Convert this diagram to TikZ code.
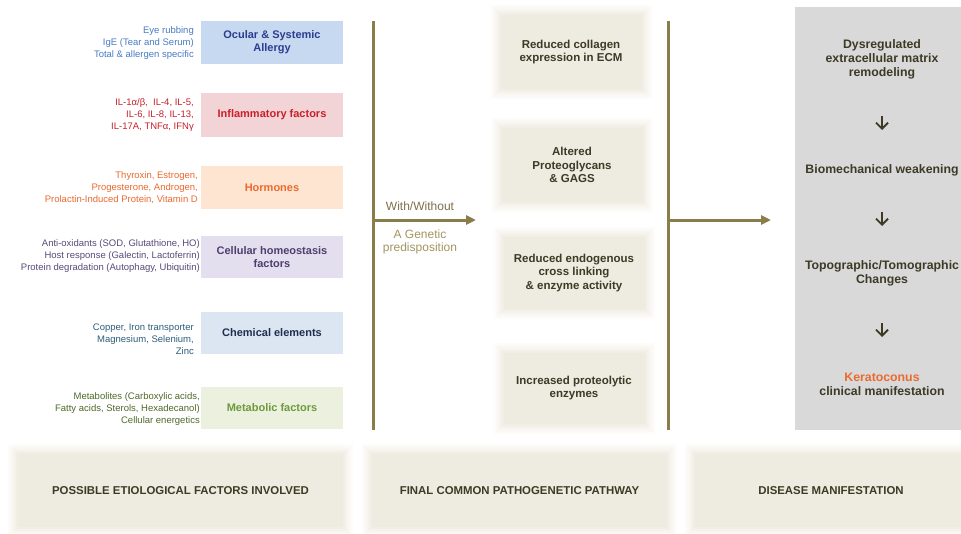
\documentclass[tikz,border=0pt]{standalone}
\usepackage{fontspec}
\setmainfont{Liberation Sans}
\usetikzlibrary{arrows.meta}
\definecolor{olive}{HTML}{8B7D4A}
\definecolor{glowc}{HTML}{DDD6BB}
\definecolor{midfill}{HTML}{EEEBE0}
\definecolor{darktext}{HTML}{3D3A26}
\definecolor{greyfill}{HTML}{D9D9D9}
\definecolor{allergyfill}{HTML}{C6D9F0}
\definecolor{allergytitle}{HTML}{2B3D8F}
\definecolor{allergydesc}{HTML}{4A7CC4}
\definecolor{inflfill}{HTML}{F2D3D6}
\definecolor{infltext}{HTML}{C8202A}
\definecolor{hormfill}{HTML}{FDE5D2}
\definecolor{hormtext}{HTML}{EB6A2E}
\definecolor{cellfill}{HTML}{E4DFEE}
\definecolor{celltitle}{HTML}{4E3E70}
\definecolor{celldesc}{HTML}{5A4A7A}
\definecolor{chemfill}{HTML}{DCE6F2}
\definecolor{chemtitle}{HTML}{1E2E4E}
\definecolor{chemdesc}{HTML}{2E5E7A}
\definecolor{metafill}{HTML}{EBF1DE}
\definecolor{metatitle}{HTML}{6E9A3A}
\definecolor{metadesc}{HTML}{4F6A2A}
\definecolor{withc}{HTML}{7D7048}
\definecolor{genc}{HTML}{A39560}
\definecolor{kerac}{HTML}{EB6A2E}
\begin{document}
\begin{tikzpicture}[x=1pt,y=-1pt,
  facbox/.style={minimum width=142pt, inner sep=0pt, align=center,
    font=\fontsize{11}{13}\selectfont\bfseries},
  desc/.style={anchor=east, align=right, inner sep=0pt,
    font=\fontsize{9.5}{12}\selectfont},
  glow/.style={
    preaction={draw=glowc, draw opacity=0.06, line width=20pt, rounded corners=10pt},
    preaction={draw=glowc, draw opacity=0.07, line width=16pt, rounded corners=8pt},
    preaction={draw=glowc, draw opacity=0.08, line width=12pt, rounded corners=6pt},
    preaction={draw=glowc, draw opacity=0.10, line width=8pt, rounded corners=4pt},
    preaction={draw=glowc, draw opacity=0.12, line width=4pt, rounded corners=2pt}},
  midbox/.style={glow, fill=midfill, minimum width=141pt, inner sep=0pt,
    align=center, text=darktext, font=\fontsize{11.5}{13.5}\selectfont\bfseries},
  botbox/.style={glow, fill=midfill, minimum height=73pt, inner sep=0pt,
    text=darktext, font=\fontsize{11.4}{13}\selectfont\bfseries},
  rtext/.style={align=center, text=darktext, inner sep=0pt,
    font=\fontsize{12.3}{14}\selectfont\bfseries},
  darrow/.style={draw=darktext, line width=1.8pt, -{Straight Barb[length=6pt,width=12pt]}},
  vline/.style={draw=olive, line width=3pt},
  harrow/.style={draw=olive, line width=3pt, -{Triangle[length=10pt,width=9pt]}}
]
\useasboundingbox (0,0) rectangle (961,533);
\clip (0,0) rectangle (961,533);
\fill[white] (0,0) rectangle (961,533);

% Left column: factor boxes
\node[facbox, fill=allergyfill, text=allergytitle, minimum height=43pt] (f1) at (272,42.5) {Ocular \& Systemic\\Allergy};
\node[facbox, fill=inflfill, text=infltext, minimum height=44pt] (f2) at (272,115) {Inflammatory factors};
\node[facbox, fill=hormfill, text=hormtext, minimum height=43pt] (f3) at (272,187.5) {Hormones};
\node[facbox, fill=cellfill, text=celltitle, minimum height=42pt] (f4) at (272,257) {Cellular homeostasis\\factors};
\node[facbox, fill=chemfill, text=chemtitle, minimum height=42pt] (f5) at (272,333) {Chemical elements};
\node[facbox, fill=metafill, text=metatitle, minimum height=42pt] (f6) at (272,408) {Metabolic factors};

% Descriptions
\node[desc, text=allergydesc] (d1) at (194,43) {Eye rubbing\\IgE (Tear and Serum)\\Total \& allergen specific};
\node[desc, text=infltext] (d2) at (194,115) {IL-1α/β,\ \ IL-4, IL-5,\\IL-6, IL-8, IL-13,\\IL-17A, TNFα, IFNγ};
\node[desc, text=hormtext] (d3) at (198,188) {Thyroxin, Estrogen,\\Progesterone, Androgen,\\Prolactin-Induced Protein, Vitamin D};
\node[desc, text=celldesc] (d4) at (200,256) {Anti-oxidants (SOD, Glutathione, HO)\\Host response (Galectin, Lactoferrin)\\Protein degradation (Autophagy, Ubiquitin)};
\node[desc, text=chemdesc] (d5) at (194,339) {Copper, Iron transporter\\Magnesium, Selenium,\\Zinc};
\node[desc, text=metadesc] (d6) at (200,409) {Metabolites (Carboxylic acids,\\Fatty acids, Sterols, Hexadecanol)\\Cellular energetics};

% First vertical line and arrow
\coordinate (v1t) at (373,21);
\coordinate (v1b) at (373,430);
\coordinate (v1m) at (373,220);
\coordinate (h1e) at (476,220);
\draw[vline] (v1t) -- (v1b);
\draw[harrow] (v1m) -- (h1e);
\node[text=withc, font=\fontsize{12}{14}\selectfont, inner sep=0pt] (w1) at (420,206) {With/Without};
\node[text=genc, font=\fontsize{12}{13.5}\selectfont, align=center, inner sep=0pt] (g1) at (420,242) {A Genetic\\predisposition};

% Middle boxes
\node[midbox, minimum height=74pt] (m1) at (571,52) {Reduced collagen\\expression in ECM};
\node[midbox, minimum height=74pt] (m2) at (572,165) {Altered\\Proteoglycans\\\& GAGS};
\node[midbox, minimum height=72pt] (m3) at (574,273) {Reduced endogenous\\cross linking\\\& enzyme activity};
\node[midbox, minimum height=71pt] (m4) at (574,388) {Increased proteolytic\\enzymes};

% Second vertical line and arrow
\coordinate (v2t) at (668,21);
\coordinate (v2b) at (668,430);
\coordinate (v2m) at (668,220);
\coordinate (h2e) at (771,220);
\draw[vline] (v2t) -- (v2b);
\draw[harrow] (v2m) -- (h2e);

% Right grey column
\node[fill=greyfill, minimum width=166pt, minimum height=423pt, inner sep=0pt] (gbox) at (878,218.5) {};
\node[rtext] (r1) at (882,59) {Dysregulated\\extracellular matrix\\remodeling};
\coordinate (a1t) at (882,116);
\coordinate (a1b) at (882,130);
\draw[darrow] (a1t) -- (a1b);
\node[rtext] (r2) at (882,170) {Biomechanical weakening};
\coordinate (a2t) at (882,212);
\coordinate (a2b) at (882,226);
\draw[darrow] (a2t) -- (a2b);
\node[rtext] (r3) at (882,273.5) {Topographic/Tomographic\\Changes};
\coordinate (a3t) at (882,323);
\coordinate (a3b) at (882,337);
\draw[darrow] (a3t) -- (a3b);
\node[rtext] (r4) at (882,384.5) {{\color{kerac}Keratoconus}\\clinical manifestation};

% Bottom boxes
\node[botbox, minimum width=325pt] (b1) at (180.5,490.5) {POSSIBLE ETIOLOGICAL FACTORS INVOLVED};
\node[botbox, minimum width=295pt] (b2) at (519.5,490.5) {FINAL COMMON PATHOGENETIC PATHWAY};
\node[botbox, minimum width=272pt] (b3) at (831,490.5) {DISEASE MANIFESTATION};
\end{tikzpicture}
\end{document}
